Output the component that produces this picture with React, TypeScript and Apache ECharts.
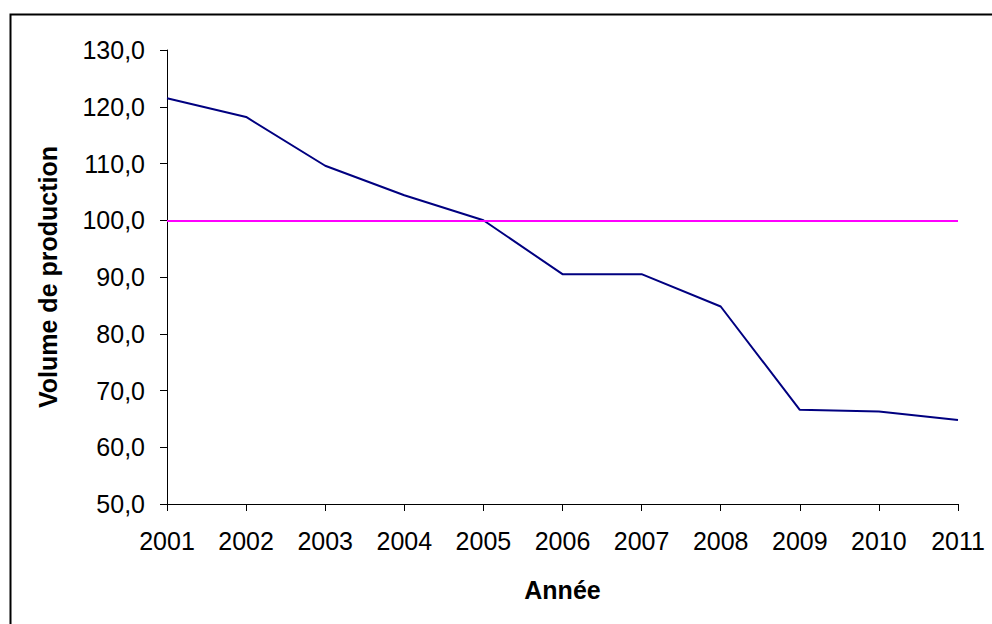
import React, { useEffect, useRef } from "react";
import * as echarts from "echarts";

const years = ["2001", "2002", "2003", "2004", "2005", "2006", "2007", "2008", "2009", "2010", "2011"];
const volume = [121.5, 118.2, 109.6, 104.4, 100.0, 90.5, 90.5, 84.8, 66.6, 66.3, 64.8];
const referenceValue = 100;
const yTicks = { min: 50, max: 130, interval: 10 };
const xTitle = "Année";
const yTitle = "Volume de production";

const FONT = "'Liberation Sans', Arial, sans-serif";

export default function App() {
  const ref = useRef<HTMLDivElement>(null);
  useEffect(() => {
    if (!ref.current) return;
    const chart = echarts.init(ref.current, null, { renderer: "svg" });
    chart.setOption({
      animation: false,
      backgroundColor: "#fff",
      textStyle: { fontFamily: FONT },
      grid: { left: 167, right: 34, top: 50, bottom: 120 },
      graphic: [
        {
          type: "rect",
          left: 8,
          top: 12,
          shape: { x: 0, y: 0, width: 1010, height: 700 },
          style: { fill: "none", stroke: "#000", lineWidth: 2 },
          silent: true,
          z: 100,
        },
      ],
      xAxis: {
        type: "category",
        data: years,
        boundaryGap: false,
        name: xTitle,
        nameLocation: "middle",
        nameGap: 73,
        nameTextStyle: { fontFamily: FONT, fontWeight: "bold", fontSize: 25, color: "#000" },
        axisLine: { lineStyle: { color: "#000", width: 1 } },
        axisTick: { show: true, length: 7, lineStyle: { color: "#000" } },
        axisLabel: { fontFamily: FONT, fontSize: 25, color: "#000", margin: 24, interval: 0 },
        splitLine: { show: false },
      },
      yAxis: {
        type: "value",
        min: yTicks.min,
        max: yTicks.max,
        interval: yTicks.interval,
        name: yTitle,
        nameLocation: "middle",
        nameGap: 107,
        nameTextStyle: { fontFamily: FONT, fontWeight: "bold", fontSize: 25, color: "#000" },
        axisLine: { show: true, lineStyle: { color: "#000", width: 1 } },
        axisTick: { show: true, length: 7, lineStyle: { color: "#000" } },
        axisLabel: {
          fontFamily: FONT,
          fontSize: 25,
          color: "#000",
          margin: 22,
          formatter: (v: number) => v.toFixed(1).replace(".", ","),
        },
        splitLine: { show: false },
      },
      series: [
        {
          type: "line",
          data: volume,
          symbol: "none",
          lineStyle: { color: "#000080", width: 2 },
          itemStyle: { color: "#000080" },
          markLine: {
            silent: true,
            symbol: "none",
            label: { show: false },
            lineStyle: { color: "#FF00FF", width: 2, type: "solid" },
            data: [{ yAxis: referenceValue }],
          },
        },
      ],
    });
    return () => chart.dispose();
  }, []);
  return (
    <div
      ref={ref}
      style={{ position: "absolute", left: 0, top: 0, width: 992, height: 624 }}
    />
  );
}
